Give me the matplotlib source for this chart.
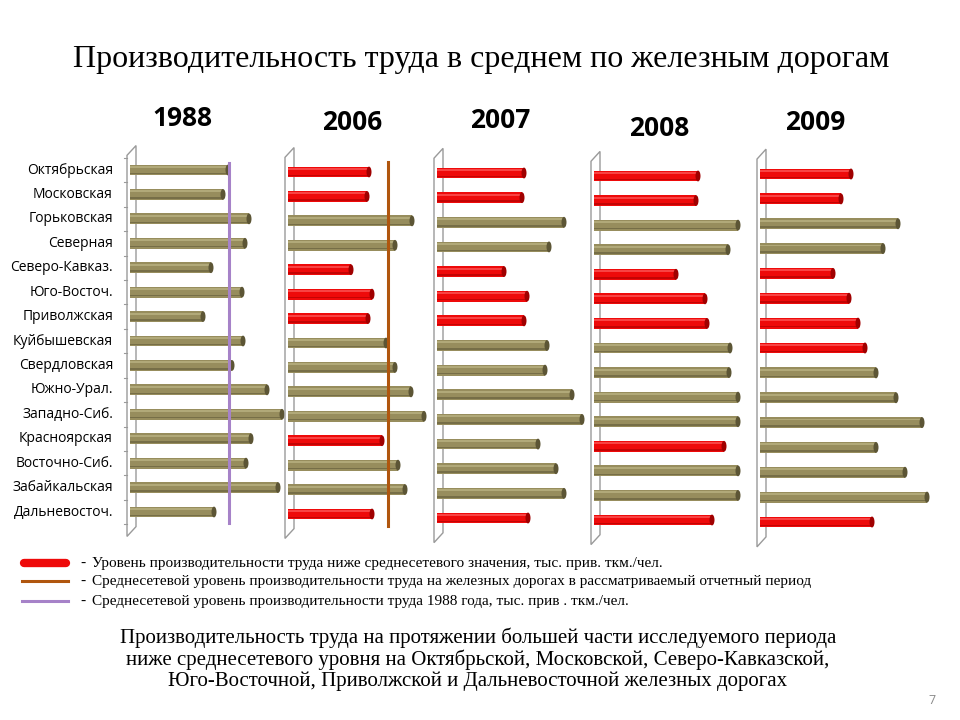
import matplotlib
matplotlib.use("Agg")
import matplotlib.pyplot as plt
from matplotlib.patches import Ellipse, Polygon

# railways (rows, top to bottom)
roads = ["Октябрьская", "Московская", "Горьковская", "Северная", "Северо-Кавказ.",
         "Юго-Восточ.", "Приволжская", "Куйбышевская", "Свердловская", "Южно-Урал.",
         "Западно-Сиб.", "Красноярская", "Восточно-Сиб.", "Забайкальская", "Дальневосточ."]
years = ["1988", "2006", "2007", "2008", "2009"]

# productivity per year
v1988 = [98, 93, 119, 115, 81, 112, 73, 113, 102, 137, 152, 121, 116, 148, 84]
v2006 = [81, 79, 124, 107, 63, 84, 80, 98, 107, 123, 136, 94, 110, 117, 84]
v2007 = [87, 85, 127, 112, 67, 90, 87, 110, 108, 135, 145, 101, 119, 127, 91]
v2008 = [104, 102, 144, 134, 82, 111, 113, 136, 135, 144, 144, 130, 144, 144, 118]
v2009 = [91, 81, 138, 123, 73, 89, 98, 105, 116, 136, 162, 116, 145, 167, 112]
values = [v1988, v2006, v2007, v2008, v2009]

# rows below the network average (red bars)
below = [[], [0, 1, 4, 5, 6, 11, 14], [0, 1, 4, 5, 6, 14],
         [0, 1, 4, 5, 6, 11, 14], [0, 1, 4, 5, 6, 7, 14]]

avg1988 = 99     # purple line
avg2006 = 100    # brown line

W, H = 960, 720
# panel layout in pixels: axis x, first row y, last row y, year label x, y
axis_x = [130, 288, 437, 594, 760]
row_first = [170, 172, 173, 176, 174]
row_last = [512, 514, 518, 520, 522]
label_xy = [(182, 118), (352, 123), (500, 120), (659, 128), (815, 122)]

OLIVE, OLIVE_D, OLIVE_L = "#978d5d", "#5c5535", "#c4bc8c"
RED, RED_D, RED_L = "#ee0a0a", "#a00000", "#ff6a6a"

fig = plt.figure(figsize=(9.6, 7.2), dpi=100)
fig.patch.set_facecolor("white")

fig.text(481 / W, 1 - 60 / H, "Производительность труда в среднем по железным дорогам",
         ha="center", va="center", fontsize=23, family="Liberation Serif")

for p in range(5):
    s = (row_last[p] - row_first[p]) / 14
    top = row_first[p] - 0.6 * s
    hgt = 15.2 * s
    ax = fig.add_axes([axis_x[p] / W, 1 - (top + hgt) / H, 180 / W, hgt / H])
    ax.set_xlim(0, 180)
    ax.set_ylim(14.6, -0.6)
    ax.axis("off")
    bh = 0.44
    for i, v in enumerate(values[p]):
        red = i in below[p]
        c, cd, cl = (RED, RED_D, RED_L) if red else (OLIVE, OLIVE_D, OLIVE_L)
        ax.barh(i, v, height=bh, color=c, edgecolor="none", zorder=2)
        ax.barh(i - bh * 0.28, v, height=bh * 0.18, color=cl, alpha=0.6, edgecolor="none", zorder=3)
        ax.barh(i + bh * 0.32, v, height=bh * 0.14, color=cd, alpha=0.55, edgecolor="none", zorder=3)
        ax.add_patch(Ellipse((v, i), 5, bh, facecolor=cd, edgecolor="none", zorder=4))
    # pseudo-3D axis wall
    ax.add_patch(Polygon([(-3, 15.0), (-3, -0.6), (6, -1.0), (6, 14.6)], closed=True,
                         fill=False, edgecolor="#9a9a9a", lw=1.0, clip_on=False, zorder=1))
    if p == 0:
        for i in range(16):
            ax.plot([-6, -3], [i - 0.5, i - 0.5], color="#9a9a9a", lw=0.8, clip_on=False)
        for i, name in enumerate(roads):
            ax.text(-17, i, name, ha="right", va="center", fontsize=10, family="Open Sans")
        ax.plot([avg1988, avg1988], [-0.3, 14.45], color="#a682c8", lw=2.2, zorder=5)
    if p == 1:
        ax.plot([avg2006, avg2006], [-0.4, 14.5], color="#b0560e", lw=2.2, zorder=5)
    lx, ly = label_xy[p]
    fig.text(lx / W, 1 - ly / H, years[p], ha="center", va="center", fontsize=19,
             fontweight="bold", family="Open Sans")

# legend
leg = fig.add_axes([0, 0, 1, 1], facecolor="none")
leg.set_xlim(0, W)
leg.set_ylim(H, 0)
leg.axis("off")
leg.plot([24, 66], [563, 563], color=RED, lw=6, solid_capstyle="round")
leg.plot([22, 68], [581, 581], color="#b0560e", lw=2.2)
leg.plot([22, 68], [601, 601], color="#a682c8", lw=2.2)
legend_txt = ["Уровень производительности труда ниже среднесетевого значения, тыс. прив. ткм./чел.",
              "Среднесетевой уровень производительности труда на железных дорогах в рассматриваемый отчетный период",
              "Среднесетевой уровень производительности труда 1988 года, тыс. прив . ткм./чел."]
for y, t in zip([563, 581, 601], legend_txt):
    leg.text(80, y, "-", ha="left", va="center", fontsize=11, family="Liberation Serif")
    leg.text(92, y, t, ha="left", va="center", fontsize=11, family="Liberation Serif")

note = ("Производительность труда на протяжении большей части исследуемого периода\n"
        "ниже среднесетевого уровня на Октябрьской, Московской, Северо-Кавказской,\n"
        "Юго-Восточной, Приволжской и Дальневосточной железных дорогах")
leg.text(478, 659, note, ha="center", va="center", fontsize=15, linespacing=1.1,
         family="Liberation Serif")
leg.text(932, 700, "7", ha="center", va="center", fontsize=9, color="#8a8a8a",
         family="Open Sans")

fig.savefig("out.png", dpi=100, facecolor="white")
